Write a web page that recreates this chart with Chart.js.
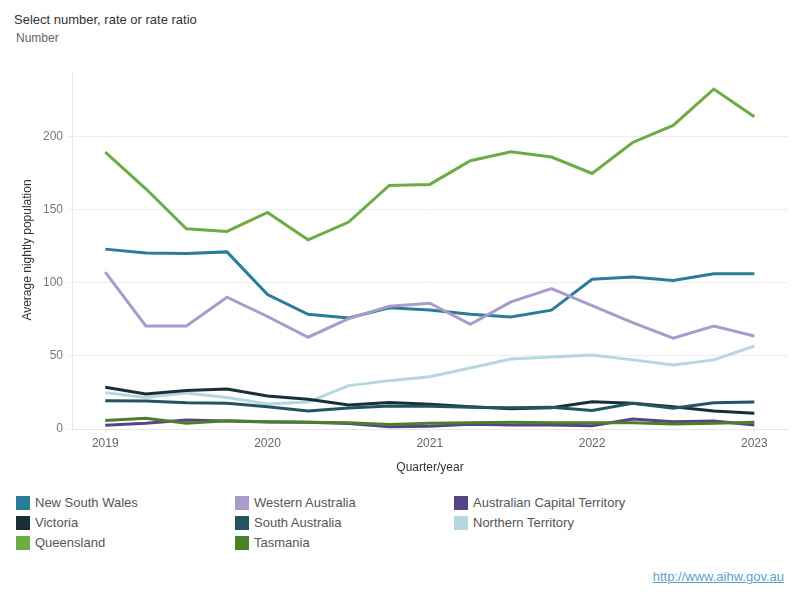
<!DOCTYPE html>
<html>
<head>
<meta charset="utf-8">
<script src="https://cdn.jsdelivr.net/npm/chart.js@4"></script>
<style>
  body { margin: 0; background: #fff; font-family: "Liberation Sans", Arial, sans-serif; }
  #page { position: relative; width: 800px; height: 600px; overflow: hidden; }
  #title { position: absolute; left: 14px; top: 12px; font-size: 13px; color: #333; }
  #sub { position: absolute; left: 16px; top: 31px; font-size: 12px; color: #666; }
  #wrap { position: absolute; left: 0; top: 0; width: 800px; height: 480px; }
  #legend { position: absolute; left: 16px; top: 496px; width: 700px; }
  .item { position: absolute; font-size: 13px; color: #555; line-height: 14px; white-space: nowrap; }
  .item span { display: inline-block; width: 14px; height: 14px; vertical-align: top; margin-right: 5px; }
  #link { position: absolute; right: 16px; top: 569px; font-size: 13px; color: #5d9fc9; text-decoration: underline; }
</style>
</head>
<body>
<div id="page">
  <div id="title">Select number, rate or rate ratio</div>
  <div id="sub">Number</div>
  <div id="wrap"><canvas id="myChart"></canvas></div>
  <div id="legend"></div>
  <div id="link">http://www.aihw.gov.au</div>
</div>
<script>
// quarters from 2019 Q1 to 2023 Q1
const quarters = ['2019 Q1', '2019 Q2', '2019 Q3', '2019 Q4', '2020 Q1', '2020 Q2', '2020 Q3', '2020 Q4',
  '2021 Q1', '2021 Q2', '2021 Q3', '2021 Q4', '2022 Q1', '2022 Q2', '2022 Q3', '2022 Q4', '2023 Q1'];
const yearTickIdx = [0, 4, 8, 12, 16];
const yearLabels = ['2019', '2020', '2021', '2022', '2023'];
const yTicks = [0, 50, 100, 150, 200];

const nsw = [123.1, 120.5, 120.1, 121.2, 92, 78.5, 76, 82.9, 81.5, 78.5, 76.7, 81.3, 102.5, 104.1, 101.6, 106.2, 106.2];
const vic = [28.5, 24, 26.3, 27.3, 22.6, 20.3, 16.4, 18.2, 16.9, 15.3, 13.9, 14.6, 18.7, 17.6, 15.3, 12.3, 10.7];
const qld = [189.5, 164.4, 137, 135.2, 148.2, 129.5, 141.6, 166.7, 167.4, 183.6, 189.7, 186.1, 174.9, 196.1, 207.8, 232.6, 213.7];
const wa = [107.3, 70.5, 70.5, 90.2, 77, 62.8, 75.6, 84, 86.1, 71.7, 87, 96.1, 84.5, 72.8, 62.1, 70.5, 63.7];
const sa = [19.4, 19.2, 18, 17.6, 15.3, 12.3, 14.4, 15.8, 15.5, 14.8, 14.5, 14.8, 12.6, 17.6, 14.2, 18, 18.5];
const tas = [5.9, 7.3, 3.9, 5.7, 5, 4.6, 4.3, 3.1, 3.9, 4.3, 4.6, 4.3, 4.3, 4.3, 3.4, 3.9, 4.6];
const act = [2.6, 3.9, 6.2, 5.4, 4.8, 4.6, 3.8, 1.6, 1.8, 3.2, 2.7, 2.7, 2.3, 6.8, 5, 5.4, 2.8];
const nt = [24.9, 21.5, 24.6, 21.5, 17.1, 18.4, 29.7, 33.1, 35.7, 41.8, 47.9, 49.3, 50.7, 47.3, 43.8, 47.3, 56.8];

const states = ['New South Wales', 'Victoria', 'Queensland', 'Western Australia', 'South Australia', 'Tasmania', 'Australian Capital Territory', 'Northern Territory'];
const series = [nsw, vic, qld, wa, sa, tas, act, nt];
const colors = ['#2b7c98', '#1a2e38', '#6dab45', '#a99bcb', '#24545f', '#4b7f29', '#554587', '#b5d7e0'];

// draw order: small lines first so the top ones sit above
const drawOrder = [5, 6, 4, 1, 7, 3, 0, 2];

const datasets = drawOrder.map(i => ({
  label: states[i],
  data: series[i].map((v, q) => ({ x: q, y: v })),
  borderColor: colors[i],
  backgroundColor: colors[i],
  borderWidth: 3,
  pointRadius: 0,
  tension: 0
}));

const config = {
  type: 'line',
  data: { datasets: datasets },
  options: {
    responsive: true,
    maintainAspectRatio: false,
    animation: false,
    layout: { padding: { top: 71, right: 12, left: 0, bottom: 0 } },
    plugins: { legend: { display: false }, tooltip: { enabled: false } },
    scales: {
      x: {
        type: 'linear',
        min: -0.82,
        max: 16.83,
        afterFit: s => { s.height = 51; },
        afterBuildTicks: s => { s.ticks = yearTickIdx.map(v => ({ value: v })); },
        ticks: {
          autoSkip: false,
          maxRotation: 0,
          padding: 3,
          color: '#666',
          font: { family: 'Liberation Sans', size: 12 },
          callback: v => yearLabels[yearTickIdx.indexOf(v)]
        },
        grid: { drawOnChartArea: false, tickLength: 4, color: '#e6e6e6' },
        border: { color: '#e6e6e6' },
        title: {
          display: true,
          text: 'Quarter/year',
          color: '#333',
          font: { family: 'Liberation Sans', size: 12 },
          padding: { top: 0, bottom: 5 }
        }
      },
      y: {
        min: 0,
        max: 245,
        afterFit: s => { s.width = 72; },
        afterBuildTicks: s => { s.ticks = yTicks.map(v => ({ value: v })); },
        ticks: {
          padding: 4,
          color: '#777',
          font: { family: 'Liberation Sans', size: 12 }
        },
        grid: { color: '#eeeeee', tickLength: 5 },
        border: { color: '#e6e6e6' },
        title: {
          display: true,
          text: 'Average nightly population',
          color: '#333',
          font: { family: 'Liberation Sans', size: 12 },
          padding: { top: 20, bottom: 0 }
        }
      }
    }
  }
};

const myChart = new Chart(document.getElementById('myChart'), config);

// legend, three columns filled down
const legend = document.getElementById('legend');
states.forEach((name, i) => {
  const col = Math.floor(i / 3);
  const row = i % 3;
  const el = document.createElement('div');
  el.className = 'item';
  el.style.left = (col * 219) + 'px';
  el.style.top = (row * 20) + 'px';
  el.innerHTML = '<span style="background:' + colors[i] + '"></span>' + name;
  legend.appendChild(el);
});
</script>
</body>
</html>
